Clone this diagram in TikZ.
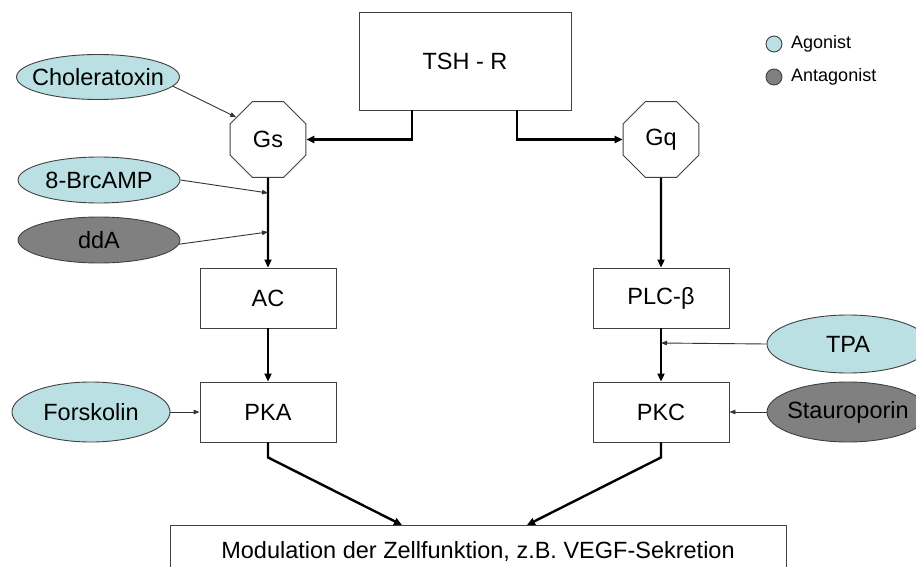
\documentclass[tikz,border=0pt]{standalone}
\usepackage{fontspec}
\setmainfont{Liberation Sans}
\usetikzlibrary{shapes.geometric,arrows.meta}
\definecolor{agon}{HTML}{BAE0E3}
\definecolor{antag}{HTML}{808080}
\definecolor{edge}{HTML}{404040}
\tikzset{
  every node/.style={font=\fontsize{23.5}{28}\selectfont},
  boxnode/.style={draw=edge, line width=0.9pt, rectangle, inner sep=0pt, minimum width=136pt, minimum height=60pt},
  octnode/.style={draw=edge, line width=0.9pt, regular polygon, regular polygon sides=8, inner sep=0pt, minimum size=82pt},
  agonist/.style={draw=edge, line width=0.9pt, ellipse, fill=agon, inner sep=0pt},
  antagonist/.style={draw=edge, line width=0.9pt, ellipse, fill=antag, inner sep=0pt},
  thick arrow/.style={line width=2.4pt, -{Triangle[length=8pt,width=7pt]}},
  thin arrow/.style={line width=0.9pt, draw=black!80, -{Triangle[length=6pt,width=4.5pt]}},
  legdot/.style={circle, draw=edge, line width=0.9pt, minimum size=16pt, inner sep=0pt},
  legtext/.style={font=\fontsize{18}{22}\selectfont, anchor=west, inner sep=0pt}
}
\newcommand{\zw}[1]{\makebox[0pt]{#1}}
\begin{document}
\begin{tikzpicture}[x=1pt,y=1pt]
\useasboundingbox (0,0) rectangle (916,-567);
% main boxes
\node[boxnode, minimum width=212pt, minimum height=98pt] (tsh) at (465,-61) {TSH - R};
\node[octnode] (gs) at (268,-139.5) {Gs};
\node[octnode] (gq) at (661,-139.5) {Gq};
\node[boxnode] (ac) at (268,-298) {AC};
\node[boxnode] (pka) at (268,-412) {PKA};
\node[boxnode] (plc) at (661,-298) {PLC-β};
\node[boxnode] (pkc) at (661,-412) {PKC};
\node[boxnode, minimum width=616pt, minimum height=52pt] (mod) at (478,-551) {Modulation der Zellfunktion, z.B. VEGF-Sekretion};
% effectors
\node[agonist, minimum width=163pt, minimum height=45pt] (chol) at (98,-77) {\zw{Choleratoxin}};
\node[agonist, minimum width=162pt, minimum height=46pt] (brc) at (99,-180) {\zw{8-BrcAMP}};
\node[antagonist, minimum width=162pt, minimum height=46pt] (dda) at (99,-240) {\zw{ddA}};
\node[agonist, minimum width=158pt, minimum height=60pt] (fors) at (91,-412) {\zw{Forskolin}};
\node[agonist, minimum width=162pt, minimum height=58pt] (tpa) at (848,-344) {\zw{TPA}};
\node[antagonist, minimum width=162pt, minimum height=60pt] (stau) at (848,-412) {\zw{Stauroporin}};
% legend
\node[legdot, fill=agon] (l1) at (774,-44) {};
\node[legtext] (l1t) at (791,-44) {Agonist};
\node[legdot, fill=antag] (l2) at (774,-77) {};
\node[legtext] (l2t) at (791,-77) {Antagonist};
% connector end points
\coordinate (c1) at (268,-193);
\coordinate (c2) at (268,-232);
\coordinate (c3) at (661,-343);
\coordinate (m1) at (402,-525);
\coordinate (m2) at (527,-525);
% thick arrows
\draw[thick arrow] ([xshift=-53pt]tsh.south) |- (gs.east);
\draw[thick arrow] ([xshift=52pt]tsh.south) |- (gq.west);
\draw[thick arrow] (gs.south) -- (ac.north);
\draw[thick arrow] (gq.south) -- (plc.north);
\draw[thick arrow] (ac.south) -- (pka.north);
\draw[thick arrow] (plc.south) -- (pkc.north);
\draw[thick arrow] (pka.south) -- ++(0,-15) -- (m1);
\draw[thick arrow] (pkc.south) -- ++(0,-15) -- (m2);
% thin arrows
\draw[thin arrow] (chol.-7) -- (gs.145);
\draw[thin arrow] (brc.east) -- (c1);
\draw[thin arrow] (dda.-3) -- (c2);
\draw[thin arrow] (fors.east) -- (pka.west);
\draw[thin arrow] (tpa.west) -- (c3);
\draw[thin arrow] (stau.west) -- (pkc.east);
\end{tikzpicture}
\end{document}
